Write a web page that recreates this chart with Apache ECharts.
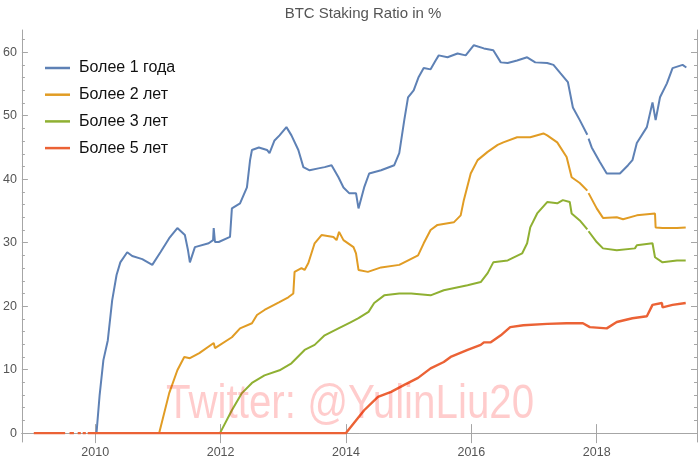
<!DOCTYPE html>
<html>
<head>
<meta charset="utf-8">
<script src="https://cdn.jsdelivr.net/npm/echarts@6/dist/echarts.min.js"></script>
<style>html,body{margin:0;padding:0;background:#fff}#c{width:700px;height:461px}</style>
</head>
<body>
<div id="c"></div>
<script>
const titleText = 'BTC Staking Ratio in %';
const seriesNames = ['Более 1 года', 'Более 2 лет', 'Более 3 лет', 'Более 5 лет'];
const seriesColors = ['#5E81B5', '#E19C24', '#8FB032', '#EB6235'];
const xTickYears = [2010, 2012, 2014, 2016, 2018];
const yTickValues = [0, 10, 20, 30, 40, 50, 60];
const yMinorValues = [2,4,6,8,12,14,16,18,22,24,26,28,32,34,36,38,42,44,46,48,52,54,56,58,62];
const watermark = 'Twitter: @YulinLiu20';

// [year, percent]; '-' marks a gap in the data
const over1Year = [
[2010.02,0],[2010.07,6.0],[2010.13,11.5],[2010.20,14.6],[2010.27,20.9],[2010.34,24.9],[2010.40,26.9],
[2010.51,28.5],[2010.59,27.9],[2010.75,27.4],[2010.91,26.5],[2011.04,28.5],[2011.18,30.7],[2011.31,32.3],
[2011.43,31.2],[2011.48,28.8],[2011.51,26.9],[2011.59,29.3],[2011.81,29.9],[2011.88,30.4],[2011.89,32.3],
[2011.91,30.1],[2011.97,30.1],[2012.15,30.9],[2012.18,35.4],[2012.31,36.2],[2012.42,38.7],[2012.47,43.0],
[2012.50,44.6],[2012.61,45.0],[2012.74,44.6],[2012.78,44.1],[2012.86,46.1],[2012.94,46.9],[2013.05,48.2],
[2013.13,46.9],[2013.24,44.6],[2013.32,41.9],[2013.42,41.4],[2013.56,41.7],[2013.66,41.9],[2013.77,42.2],
[2013.88,40.3],[2013.96,38.7],[2014.05,37.8],[2014.16,37.8],[2014.20,35.4],[2014.29,38.7],[2014.37,40.9],
[2014.56,41.4],[2014.77,42.2],[2014.85,44.1],[2014.93,49.3],[2014.99,52.9],[2015.08,54.0],[2015.16,56.1],
[2015.24,57.5],[2015.35,57.3],[2015.43,58.7],[2015.48,59.5],[2015.62,59.2],[2015.78,59.8],[2015.91,59.5],
[2016.04,61.1],[2016.20,60.6],[2016.35,60.3],[2016.47,58.4],[2016.58,58.3],[2016.73,58.7],[2016.89,59.2],
[2017.02,58.4],[2017.21,58.3],[2017.31,58.0],[2017.42,56.7],[2017.54,55.3],[2017.62,51.3],[2017.73,49.3],
[2017.85,47.0],[2017.86,'-'],[2017.87,46.4],[2017.92,45.0],[2018.05,42.7],[2018.16,40.9],[2018.37,40.9],
[2018.50,42.2],[2018.57,43.0],[2018.64,45.7],[2018.80,48.2],[2018.89,52.1],[2018.94,49.3],[2019.01,52.9],
[2019.12,55.1],[2019.21,57.5],[2019.37,58.0],[2019.43,57.6]
];
const over2Years = [
[2011.02,0],[2011.18,6.3],[2011.31,9.9],[2011.42,12.0],[2011.51,11.8],[2011.66,12.6],[2011.89,14.2],
[2011.91,13.4],[2012.18,15.1],[2012.31,16.5],[2012.50,17.3],[2012.58,18.6],[2012.70,19.4],[2012.93,20.6],
[2013.08,21.4],[2013.16,22.0],[2013.18,25.4],[2013.29,26.0],[2013.34,25.7],[2013.40,26.8],[2013.50,29.9],
[2013.61,31.2],[2013.80,30.9],[2013.85,30.4],[2013.89,31.7],[2013.96,30.4],[2014.12,29.3],[2014.16,28.3],
[2014.20,25.7],[2014.35,25.4],[2014.56,26.1],[2014.85,26.5],[2014.93,26.9],[2015.15,28.0],[2015.24,29.9],
[2015.35,32.0],[2015.46,32.8],[2015.72,33.2],[2015.83,34.3],[2015.88,36.7],[2015.99,40.9],[2016.10,43.0],
[2016.26,44.3],[2016.42,45.4],[2016.51,45.8],[2016.73,46.6],[2016.94,46.6],[2017.15,47.2],[2017.21,46.9],
[2017.37,45.8],[2017.52,43.5],[2017.60,40.3],[2017.73,39.4],[2017.85,38.2],[2017.86,'-'],[2017.87,37.8],
[2018.00,35.4],[2018.10,33.9],[2018.32,34.0],[2018.42,33.7],[2018.64,34.3],[2018.93,34.6],[2018.94,32.4],
[2019.05,32.3],[2019.28,32.3],[2019.42,32.4]
];
const over3Years = [
[2011.99,0],[2012.18,3.6],[2012.34,6.3],[2012.50,7.9],[2012.70,9.1],[2012.94,9.9],[2013.13,11.0],
[2013.34,13.1],[2013.50,13.9],[2013.66,15.4],[2013.88,16.5],[2014.08,17.5],[2014.20,18.1],[2014.36,19.1],
[2014.45,20.5],[2014.61,21.7],[2014.85,22.0],[2015.04,22.0],[2015.35,21.7],[2015.56,22.5],[2015.94,23.3],
[2016.15,23.8],[2016.26,25.2],[2016.35,26.9],[2016.58,27.2],[2016.81,28.3],[2016.89,29.9],[2016.94,32.4],
[2017.05,34.6],[2017.21,36.4],[2017.37,36.2],[2017.46,36.7],[2017.57,36.4],[2017.60,34.6],[2017.73,33.5],
[2017.85,32.1],[2017.86,'-'],[2017.87,31.8],[2018.00,30.1],[2018.10,29.1],[2018.32,28.8],[2018.61,29.1],
[2018.64,29.6],[2018.89,29.9],[2018.93,27.7],[2019.05,26.9],[2019.28,27.2],[2019.42,27.2]
];
const over5Years = [
[2009.02,0],[2009.52,0],[2009.55,'-'],[2009.59,0],[2009.66,0],[2009.69,'-'],[2009.72,0],[2009.77,0],
[2009.78,'-'],[2009.80,0],[2009.85,0],[2009.86,'-'],[2009.88,0],[2014.00,0],[2014.29,3.6],[2014.51,5.7],
[2014.72,6.5],[2014.93,7.6],[2015.15,8.7],[2015.35,10.2],[2015.56,11.2],[2015.67,12.0],[2015.94,13.1],
[2016.15,13.9],[2016.20,14.3],[2016.31,14.3],[2016.47,15.4],[2016.62,16.7],[2016.83,17.0],[2017.21,17.2],
[2017.52,17.3],[2017.78,17.3],[2017.89,16.7],[2018.16,16.5],[2018.32,17.5],[2018.57,18.1],[2018.80,18.4],
[2018.89,20.2],[2019.04,20.5],[2019.05,19.8],[2019.21,20.2],[2019.42,20.5]
];
const allData = [over1Year, over2Years, over3Years, over5Years];

const FONT = '"Liberation Sans", Arial, sans-serif';
const frameColor = '#a6a6a6';
const labelColor = '#555';
const X_MIN = 2008.83, X_MAX = 2019.6, Y_MIN = -1.4, Y_MAX = 63.5;

const chart = echarts.init(document.getElementById('c'), null, {renderer: 'canvas'});
const xBase = {type: 'value', min: X_MIN, max: X_MAX, splitLine: {show: false}};
const yBase = {type: 'value', min: Y_MIN, max: Y_MAX, splitLine: {show: false}};
const plain = v => String(v);
chart.setOption({
  animation: false,
  backgroundColor: '#fff',
  title: {
    text: titleText, left: 358, top: 1, textAlign: 'center',
    textStyle: {fontFamily: FONT, fontSize: 15, fontWeight: 'normal', color: '#555'}
  },
  legend: {
    orient: 'vertical', left: 40, top: 54, itemGap: 8.7, itemWidth: 25, itemHeight: 2.5,
    icon: 'rect', data: seriesNames,
    textStyle: {fontFamily: FONT, fontSize: 16, color: '#111', lineHeight: 18, padding: [0,0,0,4]}
  },
  grid: {left: 18.75, right: 3, top: 30, bottom: 19, containLabel: false},
  xAxis: [
    Object.assign({}, xBase, {position: 'bottom',
      axisLine: {show: true, lineStyle: {color: frameColor, width: 1}},
      axisTick: {show: true, inside: true, length: 9, customValues: xTickYears, lineStyle: {color: frameColor}},
      axisLabel: {show: true, customValues: xTickYears, formatter: plain, margin: 4, color: labelColor, fontFamily: FONT, fontSize: 12.5}
    }),
    Object.assign({}, xBase, {position: 'top',
      axisLine: {show: true, lineStyle: {color: frameColor, width: 1}},
      axisTick: {show: true, inside: true, length: 10, customValues: xTickYears, lineStyle: {color: frameColor}},
      axisLabel: {show: false}
    })
  ],
  yAxis: [
    Object.assign({}, yBase, {position: 'left',
      axisLine: {show: true, lineStyle: {color: frameColor, width: 1}},
      axisTick: {show: true, inside: true, length: 6, customValues: yTickValues, lineStyle: {color: frameColor}},
      axisLabel: {show: true, customValues: yTickValues, formatter: plain, margin: 5, color: labelColor, fontFamily: FONT, fontSize: 12.5}
    }),
    Object.assign({}, yBase, {position: 'left', offset: 0,
      axisLine: {show: false},
      axisTick: {show: true, inside: true, length: 3, customValues: yMinorValues, lineStyle: {color: frameColor}},
      axisLabel: {show: false}
    }),
    Object.assign({}, yBase, {position: 'right',
      axisLine: {show: true, lineStyle: {color: frameColor, width: 1}},
      axisTick: {show: true, inside: true, length: 6, customValues: yTickValues, lineStyle: {color: frameColor}},
      axisLabel: {show: false}
    }),
    Object.assign({}, yBase, {position: 'right', offset: 0,
      axisLine: {show: false},
      axisTick: {show: true, inside: true, length: 3, customValues: yMinorValues, lineStyle: {color: frameColor}},
      axisLabel: {show: false}
    })
  ],
  graphic: [{
    type: 'text', left: 166, top: 381, z: 100, silent: true, scaleX: 0.84,
    style: {text: watermark, font: '48px "Liberation Sans", Arial, sans-serif', fill: 'rgba(255,0,0,0.2)'}
  }],
  series: seriesNames.map((n, i) => ({
    name: n, type: 'line', data: allData[i], xAxisIndex: 0, yAxisIndex: 0,
    showSymbol: false, symbol: 'none', connectNulls: false,
    color: seriesColors[i],
    lineStyle: {width: i === 3 ? 2.4 : 2, color: seriesColors[i]},
    z: 2 + i
  }))
});
</script>
</body>
</html>
